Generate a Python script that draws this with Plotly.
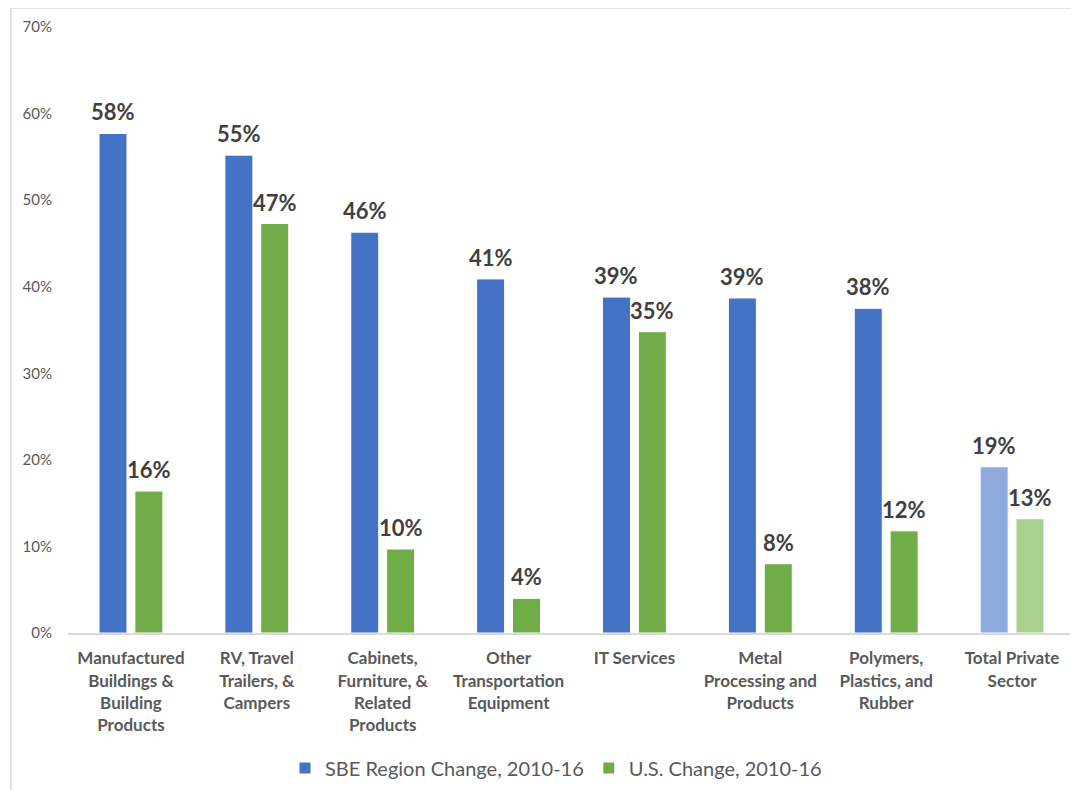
import plotly.graph_objects as go

categories = [
    "Manufactured<br>Buildings &<br>Building<br>Products",
    "RV, Travel<br>Trailers, &<br>Campers",
    "Cabinets,<br>Furniture, &<br>Related<br>Products",
    "Other<br>Transportation<br>Equipment",
    "IT Services",
    "Metal<br>Processing and<br>Products",
    "Polymers,<br>Plastics, and<br>Rubber",
    "Total Private<br>Sector",
]
sbe_values = [0.577, 0.552, 0.463, 0.409, 0.388, 0.387, 0.375, 0.192]
us_values = [0.164, 0.473, 0.097, 0.040, 0.348, 0.080, 0.118, 0.132]
sbe_name = "SBE Region Change, 2010-16"
us_name = "U.S. Change, 2010-16"
y_ticks = [0, 0.1, 0.2, 0.3, 0.4, 0.5, 0.6, 0.7]

sbe_colors = ["#4472c4"] * 7 + ["#8faadc"]
us_colors = ["#70ad47"] * 7 + ["#a9d18e"]

FONT = "Lato, 'Open Sans', sans-serif"
label_font = dict(family=FONT, size=22, color="#404040", weight="bold")

# page has an 8px body margin; work in page pixels and convert
OFF = 8
W, H = 1078 - OFF, 790 - OFF
L = 68 - OFF
T = 27 - OFF
B = H - (633 - OFF)
R = W - (1075 - OFF)
pw = W - L - R
ph = H - T - B


def px_x(x):
    return (x - OFF - L) / pw


def px_y(y):
    return (H - B - (y - OFF)) / ph


fig = go.Figure()
fig.add_trace(go.Bar(
    x=categories, y=sbe_values, name=sbe_name,
    marker=dict(color=sbe_colors, line=dict(color="white", width=1)),
))
fig.add_trace(go.Bar(
    x=categories, y=us_values, name=us_name,
    marker=dict(color=us_colors, line=dict(color="white", width=1)),
))

annotations = []
for cat, v in zip(categories, sbe_values):
    annotations.append(dict(x=cat, y=v, xref="x", yref="y", text=f"{v:.0%}",
                            showarrow=False, xanchor="center", yanchor="bottom",
                            xshift=-18, yshift=6, font=label_font))
for cat, v in zip(categories, us_values):
    annotations.append(dict(x=cat, y=v, xref="x", yref="y", text=f"{v:.0%}",
                            showarrow=False, xanchor="center", yanchor="bottom",
                            xshift=18, yshift=6, font=label_font))

fig.update_layout(
    width=W, height=H,
    margin=dict(l=L, r=R, t=T, b=B),
    paper_bgcolor="white", plot_bgcolor="white",
    barmode="group", bargap=0.43, bargroupgap=0.22,
    font=dict(family=FONT, color="#595959"),
    showlegend=True,
    legend=dict(
        orientation="h", x=px_x(556), xanchor="center", y=px_y(768), yanchor="middle",
        font=dict(family=FONT, size=20, color="#595959"),
        tracegroupgap=0,
    ),
    xaxis=dict(
        showline=True, linecolor="#d9d9d9", linewidth=2,
        showgrid=False, ticks="outside", ticklen=9, tickcolor="rgba(0,0,0,0)",
        tickfont=dict(family=FONT, size=17, color="#595959", weight="bold"),
        tickangle=0,
    ),
    yaxis=dict(
        range=[0, 0.7], tickvals=y_ticks, tickformat=".0%",
        showgrid=False, zeroline=False, showline=False,
        ticks="outside", ticklen=12, tickcolor="rgba(0,0,0,0)",
        tickfont=dict(family=FONT, size=15, color="#595959"),
    ),
    annotations=annotations,
    shapes=[
        dict(type="line", xref="paper", yref="paper",
             x0=px_x(11), x1=px_x(1078), y0=px_y(8), y1=px_y(8),
             line=dict(color="#d9d9d9", width=1.5)),
        dict(type="line", xref="paper", yref="paper",
             x0=px_x(11), x1=px_x(11), y0=px_y(8), y1=px_y(790),
             line=dict(color="#d9d9d9", width=1.5)),
    ],
)

fig.write_html("out.html")
